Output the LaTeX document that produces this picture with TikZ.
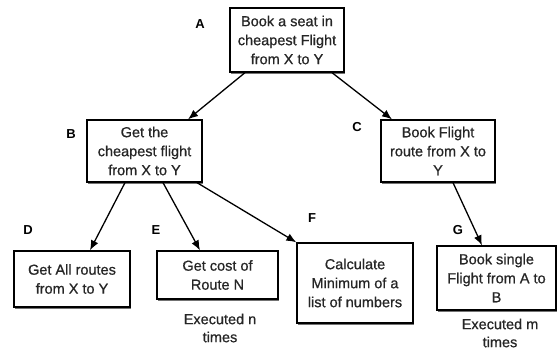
\documentclass[tikz,border=0pt]{standalone}
\usepackage{fontspec}
\setmainfont{Liberation Sans}
\newfontfamily\boxfont{Liberation Sans}[FakeBold=0.7]
\usetikzlibrary{shadows,arrows.meta}
\begin{document}
\begin{tikzpicture}[x=1pt,y=-1pt,
  task/.style={draw=black, line width=1.3pt, fill=white, align=center,
    inner sep=2pt, font=\boxfont\fontsize{14.5}{19}\selectfont, text=black!85,
    drop shadow={shadow xshift=0.8pt, shadow yshift=-1.6pt, fill=black!55, opacity=1}},
  tag/.style={font=\bfseries\fontsize{13}{15}\selectfont},
  note/.style={align=center, text=black!85, font=\boxfont\fontsize{14.5}{18}\selectfont},
  link/.style={line width=1.3pt, -{Latex[length=10pt,width=8pt]}}]
\useasboundingbox (0,0) rectangle (559,351);

% task boxes
\node[task, minimum width=114pt, minimum height=64pt] (A) at (287,40)
  {Book a seat in\\cheapest Flight\\from X to Y};
\node[task, minimum width=115pt, minimum height=62pt] (B) at (144.5,151)
  {Get the\\cheapest flight\\from X to Y};
\node[task, minimum width=114pt, minimum height=62pt] (C) at (438,151)
  {Book Flight\\route from X to\\Y};
\node[task, minimum width=116pt, minimum height=56pt] (D) at (72,279)
  {Get All routes\\from X to Y};
\node[task, minimum width=121pt, minimum height=48pt] (E) at (217.5,275)
  {Get cost of\\Route N};
\node[task, minimum width=116pt, minimum height=80pt] (F) at (355,283)
  {Calculate\\Minimum of a\\list of numbers};
\node[task, minimum width=119pt, minimum height=64pt] (G) at (496.5,278)
  {Book single\\Flight from A to\\B};

% letter tags
\node[tag] (tA) at (200,24) {A};
\node[tag] (tB) at (71,134) {B};
\node[tag] (tC) at (357,127) {C};
\node[tag] (tD) at (28,230) {D};
\node[tag] (tE) at (156,230) {E};
\node[tag] (tF) at (312,218) {F};
\node[tag] (tG) at (458,230) {G};

% repetition notes
\node[note] (nE) at (220,328) {Executed n\\times};
\node[note] (nG) at (500,333) {Executed m\\times};

% decomposition arrows
\draw[link] ([xshift=-42pt]A.south) -- ([xshift=43.5pt]B.north);
\draw[link] ([xshift=45pt]A.south) -- ([xshift=-46pt]C.north);
\draw[link] ([xshift=-19.5pt]B.south) -- ([xshift=18pt]D.north);
\draw[link] ([xshift=18.5pt]B.south) -- ([xshift=-17.5pt]E.north);
\draw[link] ([xshift=52.5pt]B.south) -- (F.north west);
\draw[link] ([xshift=15pt]C.south) -- ([xshift=-14.5pt]G.north);
\end{tikzpicture}
\end{document}
